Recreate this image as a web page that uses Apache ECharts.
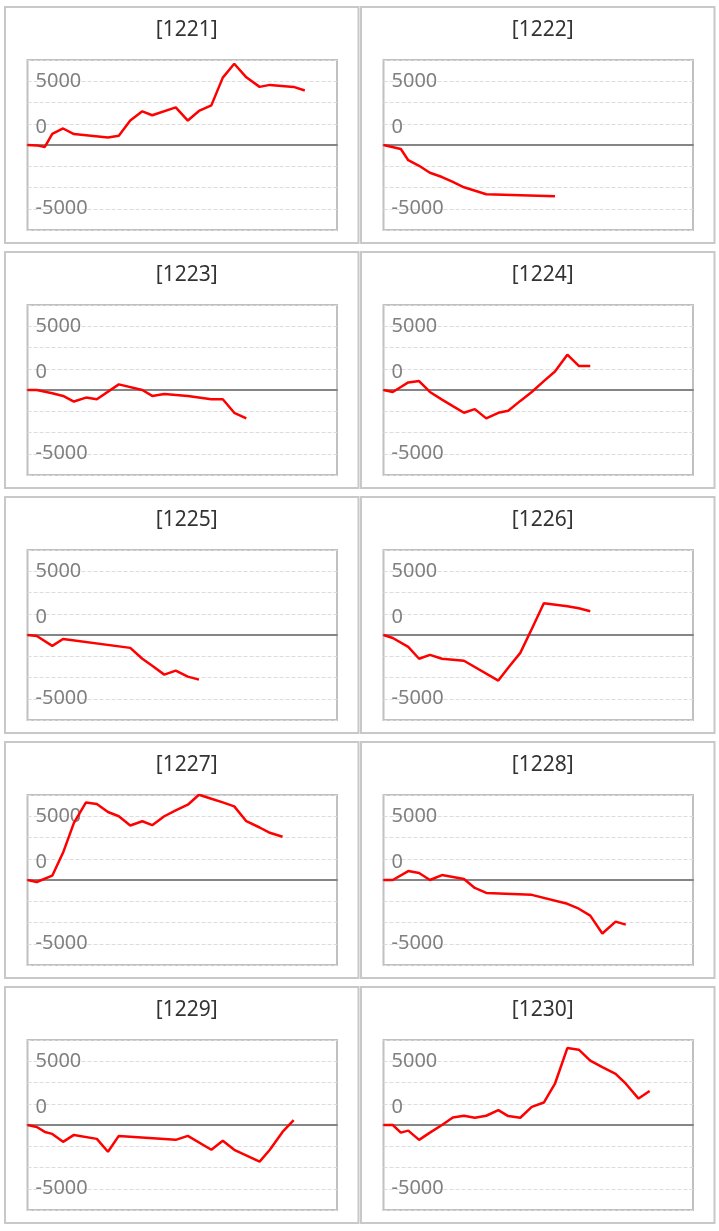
<!DOCTYPE html>
<html><head><meta charset="utf-8">
<script src="https://cdn.jsdelivr.net/npm/echarts@6/dist/echarts.min.js"></script>
<style>html,body{margin:0;padding:0;background:#fff;}#c{width:719px;height:1231px;}</style>
</head><body><div id="c"></div>
<script>
// shared x positions (time slots, as % of the plot width)
const slots = [0, 3.0, 5.6, 8.0, 11.5, 15.0, 18.9, 22.4, 26.0, 29.5, 33.2, 37.1, 40.3, 44.2, 47.9, 51.8, 55.4, 59.4, 63.1, 66.8, 70.7, 75.0, 78.3, 82.4, 86.0, 89.6];
const titles = ['[1221]','[1222]','[1223]','[1224]','[1225]','[1226]','[1227]','[1228]','[1229]','[1230]'];
const yTickLabels = [5000, 0, -5000];
const s1221 = [0,-30,-155,880,1295,855,null,null,596,725,1917,2642,2331,null,2953,1917,2668,3108,5284,6371,5310,4558,4714,null,4558,4274];
const s1222 = [0,null,-311,-1191,-1632,-2176,-2512,-2901,-3315,null,-3859,null,null,null,null,null,-4015];
const s1223 = [0,0,null,-259,-466,-906,-596,-725,null,440,null,0,-466,-311,null,-466,null,-725,-725,-1787,-2227];
const s1224 = [0,-155,233,596,699,-155,-751,-1269,-1787,-1502,-2227,-1787,-1632,-855,-155,699,1450,2771,1891,1891];
const s1225 = [0,-78,null,-855,-311,null,null,null,null,null,-1010,-1865,-2409,-3108,-2797,-3263,-3497];
const s1226 = [0,-233,null,-932,-1865,-1554,-1865,null,-2020,null,null,-3574,-2564,-1399,466,2486,null,2253,2098,1865];
const s1227 = [0,-155,null,337,2150,4481,6087,5957,5335,4999,4274,4610,4299,4999,5465,5905,6682,6371,6087,5776,4610,4118,3704,3393];
const s1228 = [0,0,null,699,544,0,389,null,78,-622,-1010,null,null,null,-1166,null,null,-1865,-2253,-2797,-4196,-3263,-3497];
const s1229 = [0,-155,-544,-699,-1321,-777,null,-1088,-2098,-855,null,null,null,null,-1166,-855,null,-1943,-1243,-1943,null,-2875,-1943,-544,389];
const s1230 = [0,0,-596,-440,-1166,-596,0,596,725,570,725,1166,699,570,1425,1761,3238,6035,5905,5051,4533,4015,3238,2072,2668];
const seriesData = [s1221,s1222,s1223,s1224,s1225,s1226,s1227,s1228,s1229,s1230];

const step = 5000/3;
const colX = [4, 360], rowY = [6, 251, 496, 741, 986];
const PW = 355.5, PH = 238;
const option = {animation:false, title:[], grid:[], xAxis:[], yAxis:[], series:[], graphic:[]};
titles.forEach((t,i)=>{
  const cx = colX[i%2], cy = rowY[Math.floor(i/2)];
  option.graphic.push({type:'rect', silent:true, z:-1,
    shape:{x:cx+1, y:cy+1, width:PW-2, height:PH-2},
    style:{fill:'#fff', stroke:'#c8c8c8', lineWidth:2}});
  option.title.push({text:t, left:cx+PW/2, top:cy+9, textAlign:'center',
    textStyle:{fontFamily:'Noto Sans', fontSize:21, fontWeight:'normal', color:'#333'}});
  option.grid.push({left:cx+23.5, top:cy+54, width:309.5, height:170, show:true,
    borderColor:'#c0c0c0', borderWidth:2, backgroundColor:'transparent'});
  option.xAxis.push({type:'value', gridIndex:i, min:0, max:100,
    axisLine:{onZero:true, lineStyle:{color:'#858585', width:2}},
    axisTick:{show:false}, axisLabel:{show:false}, splitLine:{show:false}});
  option.yAxis.push({type:'value', gridIndex:i, min:-4*step, max:4*step, interval:step,
    axisLine:{show:false}, axisTick:{show:false},
    splitLine:{show:true, lineStyle:{color:'#dcdcdc', type:'dashed', width:1}},
    axisLabel:{inside:true, margin:8, color:'#808080', fontFamily:'Noto Sans', fontSize:20,
      showMinLabel:false, showMaxLabel:false,
      formatter:function(v){
        const r = Math.round(v);
        if (!yTickLabels.includes(r)) return '';
        return r === 0 ? '{z|0}' : String(r);
      },
      rich:{z:{color:'#808080', fontFamily:'Noto Sans', fontSize:20, padding:[0,0,36,0]}}
    }});
  option.series.push({type:'line', xAxisIndex:i, yAxisIndex:i, showSymbol:false,
    connectNulls:true, lineStyle:{color:'#ff0000', width:2.5}, itemStyle:{color:'#ff0000'},
    data: seriesData[i].map((v,k)=>[slots[k], v])});
});
const chart = echarts.init(document.getElementById('c'), null, {renderer:'canvas'});
chart.setOption(option);
</script></body></html>
